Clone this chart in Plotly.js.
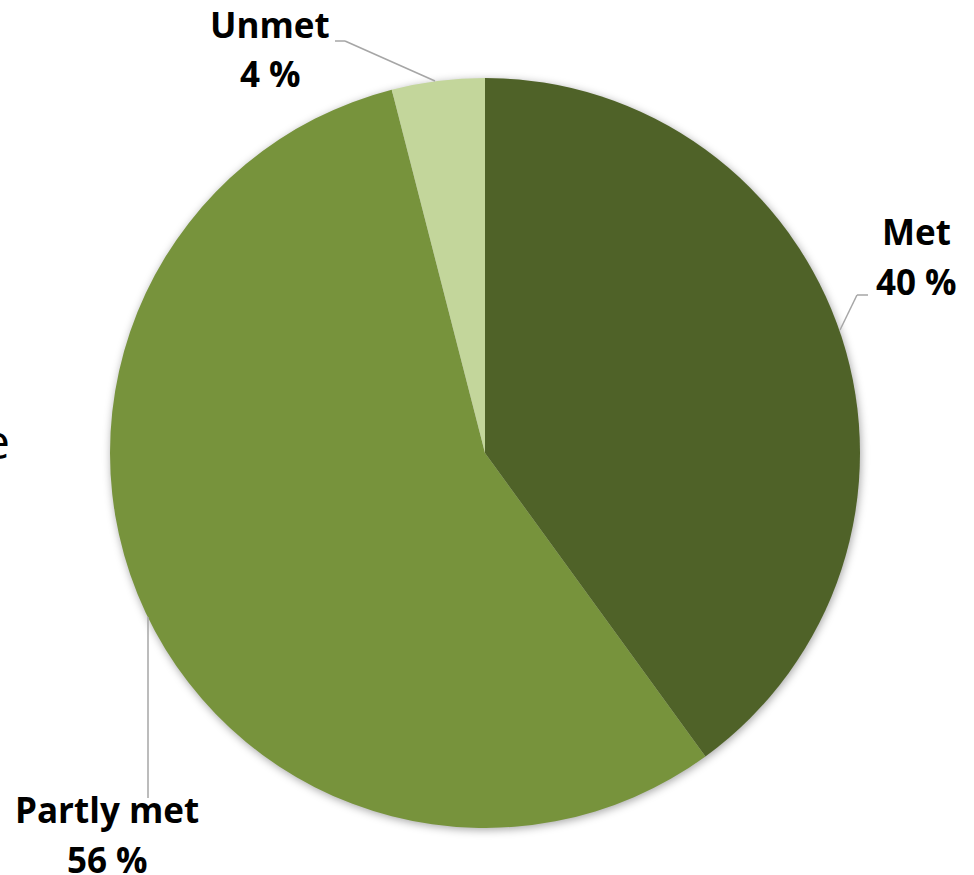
<!DOCTYPE html>
<html>
<head>
<meta charset="utf-8">
<script src="https://cdn.plot.ly/plotly-3.0.1.min.js"></script>
<style>
html,body{margin:0;padding:0;background:#fff;}
#chart{width:974px;height:875px;}
.pielayer{filter: drop-shadow(1px 2px 4px rgba(0,0,0,0.35));}
</style>
</head>
<body>
<div id="chart"></div>
<script>
const categories = ["Met", "Partly met", "Unmet"];
const values = [40, 56, 4];
const colors = ["#4F6228", "#77933C", "#C3D69B"];

const W = 974, H = 875;
const px = x => x / W;
const py = y => 1 - y / H;
const FONT = "'Open Sans', 'Noto Sans', sans-serif";
const FS = 35;

const trace = {
  type: "pie",
  labels: categories,
  values: values,
  sort: false,
  direction: "clockwise",
  rotation: 0,
  marker: {colors: colors, line: {width: 0}},
  textinfo: "none",
  hoverinfo: "label+percent",
  showlegend: false,
  domain: {x: [px(110), px(860)], y: [py(828), py(78)]}
};

// label placement (pixel positions) per category
const labelPos = {
  "Met":        {x: 916, y1: 231, y2: 281},
  "Partly met": {x: 107, y1: 809, y2: 859},
  "Unmet":      {x: 270, y1: 24,  y2: 74}
};

const annotations = [];
categories.forEach((c, i) => {
  const p = labelPos[c];
  annotations.push({xref: "paper", yref: "paper", x: px(p.x), y: py(p.y1), text: "<b>" + c + "</b>",
    showarrow: false, xanchor: "center", yanchor: "middle", font: {family: FONT, size: FS, color: "#000"}});
  annotations.push({xref: "paper", yref: "paper", x: px(p.x), y: py(p.y2), text: "<b>" + values[i] + " %</b>",
    showarrow: false, xanchor: "center", yanchor: "middle", font: {family: FONT, size: FS, color: "#000"}});
});
annotations.push({xref: "paper", yref: "paper", x: px(12), y: py(440), text: "e",
  showarrow: false, xanchor: "right", yanchor: "middle", font: {family: FONT, size: 48, color: "#000"}});

const lineStyle = {color: "#A6A6A6", width: 1.5};
const seg = (x0, y0, x1, y1) => ({type: "line", xref: "paper", yref: "paper",
  x0: px(x0), y0: py(y0), x1: px(x1), y1: py(y1), line: lineStyle});
const shapes = [
  seg(335, 41, 345, 41), seg(345, 41, 435, 81),
  seg(840, 330, 857, 295), seg(857, 295, 868, 295),
  seg(148, 617, 148, 798)
];

const layout = {
  width: W, height: H,
  margin: {l: 0, r: 0, t: 0, b: 0},
  paper_bgcolor: "#fff",
  plot_bgcolor: "#fff",
  annotations: annotations,
  shapes: shapes
};

Plotly.newPlot("chart", [trace], layout, {displayModeBar: false, staticPlot: true});
</script>
</body>
</html>
